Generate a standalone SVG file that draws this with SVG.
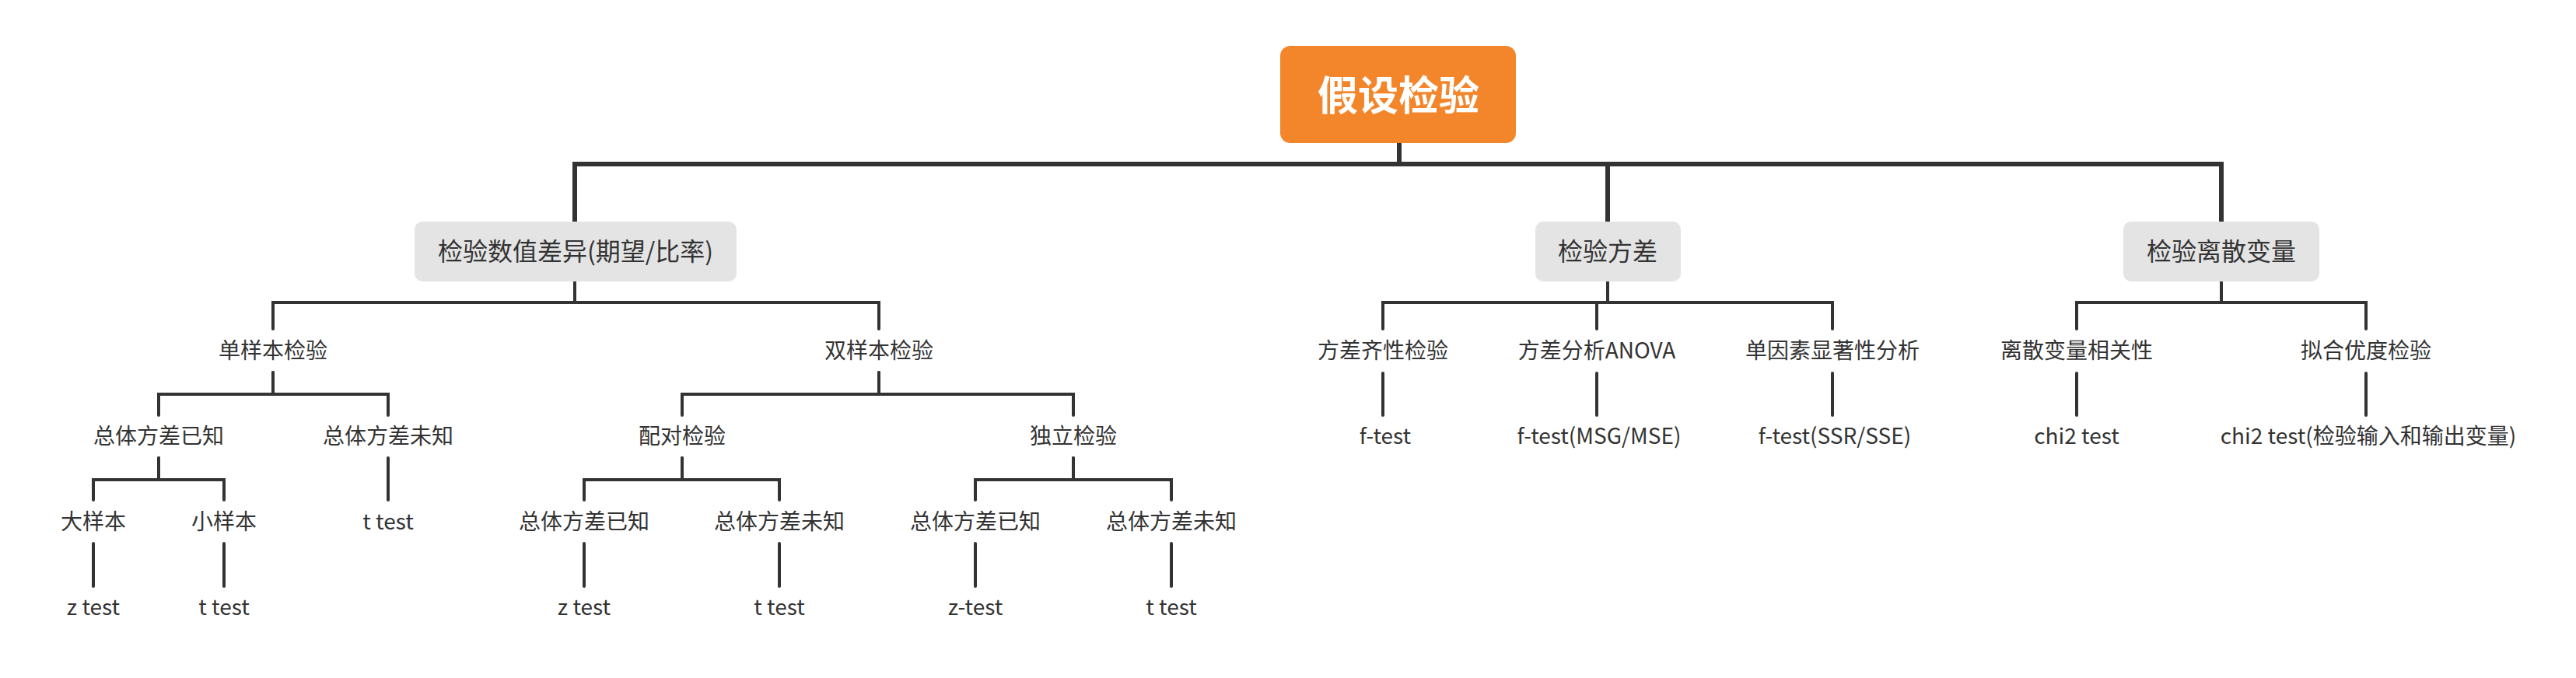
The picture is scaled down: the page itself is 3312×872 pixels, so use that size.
<svg xmlns="http://www.w3.org/2000/svg" width="3312" height="872" viewBox="0 0 3312 872">
<style>
text{font-family:"Noto Sans CJK SC","Noto Sans",sans-serif;fill:#333333;text-anchor:middle}
.root{fill:#F3862A}
.rootT{fill:#FFFFFF;font-size:52px;font-weight:bold}
.l1{fill:#E4E4E4}
.l1T{font-size:32px}
.t{font-size:28px}
.c0{fill:none;stroke:#333333;stroke-width:6;stroke-linejoin:miter}
.c1{fill:none;stroke:#333333;stroke-width:4;stroke-linejoin:miter;stroke-linecap:round}
</style>
<rect width="3312" height="872" fill="#FFFFFF"/>
<g id="connectors">
<path class="c0" d="M1799 184V211H739V285"/>
<path class="c0" d="M1799 184V211H2067V285"/>
<path class="c0" d="M1799 184V211H2856V285"/>
<path class="c1" d="M739 362V389H351V423"/>
<path class="c1" d="M739 362V389H1130V423"/>
<path class="c1" d="M351 479V507H204V534"/>
<path class="c1" d="M351 479V507H499V534"/>
<path class="c1" d="M204 589V617H120V643"/>
<path class="c1" d="M204 589V617H288V643"/>
<path class="c1" d="M499 589V643"/>
<path class="c1" d="M120 699V754"/>
<path class="c1" d="M288 699V754"/>
<path class="c1" d="M1130 479V507H877V534"/>
<path class="c1" d="M1130 479V507H1380V534"/>
<path class="c1" d="M877 589V617H751V643"/>
<path class="c1" d="M877 589V617H1002V643"/>
<path class="c1" d="M1380 589V617H1254V643"/>
<path class="c1" d="M1380 589V617H1506V643"/>
<path class="c1" d="M751 699V754"/>
<path class="c1" d="M1002 699V754"/>
<path class="c1" d="M1254 699V754"/>
<path class="c1" d="M1506 699V754"/>
<path class="c1" d="M2067 362V389H1778V423"/>
<path class="c1" d="M2067 362V389H2053V423"/>
<path class="c1" d="M2067 362V389H2356V423"/>
<path class="c1" d="M1778 480V534"/>
<path class="c1" d="M2053 480V534"/>
<path class="c1" d="M2356 480V534"/>
<path class="c1" d="M2856 362V389H2670V423"/>
<path class="c1" d="M2856 362V389H3042V423"/>
<path class="c1" d="M2670 480V534"/>
<path class="c1" d="M3042 480V534"/>
</g>
<g id="root"><rect class="root" x="1646" y="59" width="303" height="125" rx="13"/><text class="rootT" x="1798" y="142">假设检验</text></g>
<g id="n-diff"><rect class="l1" x="533" y="285" width="414" height="77" rx="10"/><text class="l1T" x="740" y="335">检验数值差异(期望/比率)</text></g>
<g id="n-var"><rect class="l1" x="1974" y="285" width="187" height="77" rx="10"/><text class="l1T" x="2067" y="335">检验方差</text></g>
<g id="n-disc"><rect class="l1" x="2730" y="285" width="252" height="77" rx="10"/><text class="l1T" x="2856" y="335">检验离散变量</text></g>
<g id="n-one"><text class="t" x="351" y="461">单样本检验</text></g>
<g id="n-one-known"><text class="t" x="204" y="571">总体方差已知</text></g>
<g id="n-one-unknown"><text class="t" x="499" y="571">总体方差未知</text></g>
<g id="n-large"><text class="t" x="120" y="681">大样本</text></g>
<g id="n-small"><text class="t" x="288" y="681">小样本</text></g>
<g id="n-one-unknown-t"><text class="t" x="499" y="681">t test</text></g>
<g id="n-large-z"><text class="t" x="120" y="791">z test</text></g>
<g id="n-small-t"><text class="t" x="288" y="791">t test</text></g>
<g id="n-two"><text class="t" x="1130" y="461">双样本检验</text></g>
<g id="n-paired"><text class="t" x="877" y="571">配对检验</text></g>
<g id="n-indep"><text class="t" x="1380" y="571">独立检验</text></g>
<g id="n-p-known"><text class="t" x="751" y="681">总体方差已知</text></g>
<g id="n-p-unknown"><text class="t" x="1002" y="681">总体方差未知</text></g>
<g id="n-i-known"><text class="t" x="1254" y="681">总体方差已知</text></g>
<g id="n-i-unknown"><text class="t" x="1506" y="681">总体方差未知</text></g>
<g id="n-p-known-z"><text class="t" x="751" y="791">z test</text></g>
<g id="n-p-unknown-t"><text class="t" x="1002" y="791">t test</text></g>
<g id="n-i-known-z"><text class="t" x="1254" y="791">z-test</text></g>
<g id="n-i-unknown-t"><text class="t" x="1506" y="791">t test</text></g>
<g id="n-homog"><text class="t" x="1778" y="461">方差齐性检验</text></g>
<g id="n-anova"><text class="t" x="2053" y="461">方差分析ANOVA</text></g>
<g id="n-oneway"><text class="t" x="2356" y="461">单因素显著性分析</text></g>
<g id="n-homog-f"><text class="t" x="1781" y="571">f-test</text></g>
<g id="n-anova-f"><text class="t" x="2056" y="571">f-test(MSG/MSE)</text></g>
<g id="n-oneway-f"><text class="t" x="2359" y="571">f-test(SSR/SSE)</text></g>
<g id="n-corr"><text class="t" x="2670" y="461">离散变量相关性</text></g>
<g id="n-fit"><text class="t" x="3042" y="461">拟合优度检验</text></g>
<g id="n-corr-chi"><text class="t" x="2670" y="571">chi2 test</text></g>
<g id="n-fit-chi"><text class="t" x="3045" y="571">chi2 test(检验输入和输出变量)</text></g>
</svg>
